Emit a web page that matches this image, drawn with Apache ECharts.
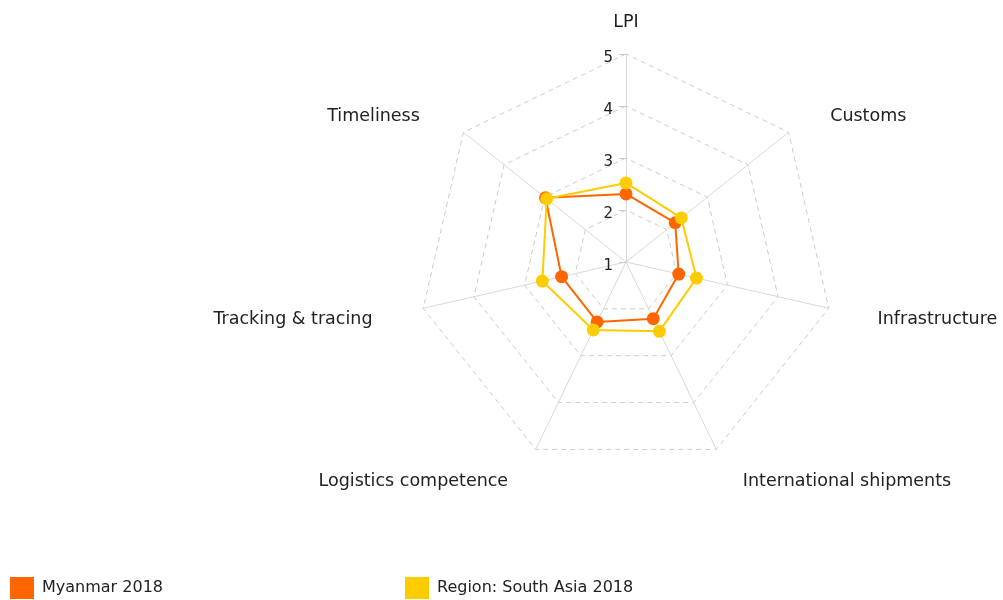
<!DOCTYPE html>
<html>
<head>
<meta charset="utf-8">
<script src="https://cdn.jsdelivr.net/npm/echarts@6/dist/echarts.min.js"></script>
<style>
  html, body { margin: 0; padding: 0; background: #fff; }
  #chart { width: 1003px; height: 600px; }
</style>
</head>
<body>
<div id="chart"></div>
<script>
// categories in clockwise order, starting at the top
var categories = ['LPI', 'Customs', 'Infrastructure', 'International shipments', 'Logistics competence', 'Tracking & tracing', 'Timeliness'];
var myanmar = [2.31, 2.21, 2.04, 2.21, 2.28, 2.27, 2.98];
var southAsia = [2.52, 2.36, 2.39, 2.48, 2.45, 2.65, 2.95];
var seriesNames = ['Myanmar 2018', 'Region: South Asia 2018'];
var scaleMin = 1;
var scaleMax = 5;

// echarts lays the indicators out counter-clockwise, so flip everything after the first
function clockwise(arr) {
	return [arr[0]].concat(arr.slice(1).reverse());
}

// gap + padding of each axis name
var nameGaps = {
	'LPI': 23,
	'Customs': 25,
	'Infrastructure': 50,
	'International shipments': 36,
	'Logistics competence': 36,
	'Tracking & tracing': 52,
	'Timeliness': 25
};
var namePads = {
	'Customs': [0, 0, 0, 22],
	'Timeliness': [0, 24, 0, 0],
	'International shipments': [0, 0, 0, 11],
	'Logistics competence': [0, 12, 0, 0]
};

var indicators = clockwise(categories).map(function (c, i) {
	var ind = { name: c, min: scaleMin, max: scaleMax, nameGap: nameGaps[c] };
	if (namePads[c]) {
		ind.nameTextStyle = { padding: namePads[c] };
	}
	if (i == 0) {
		// only the LPI axis carries the scale labels
		ind.axisLabel = {
			show: true,
			margin: 13,
			formatter: '{v|{value}}',
			rich: { v: { fontSize: 15, color: '#222', fontFamily: 'DejaVu Sans', padding: [8, 0, 0, 0] } }
		};
		ind.axisTick = { show: true, length: 7, lineStyle: { color: '#ccc' } };
	}
	return ind;
});

var my_chart = echarts.init(document.getElementById('chart'));
my_chart.setOption({
	animation: false,
	color: ['#ff6600', '#ffcc00'],
	textStyle: { fontFamily: 'DejaVu Sans' },
	legend: {
		data: seriesNames,
		left: 10,
		bottom: 1,
		padding: 0,
		icon: 'rect',
		itemWidth: 24,
		itemHeight: 22,
		itemGap: 242,
		textStyle: { fontSize: 16, color: '#222', fontFamily: 'DejaVu Sans', padding: [3, 0, 0, 3] }
	},
	radar: {
		center: [626, 262],
		radius: 208,
		shape: 'polygon',
		splitNumber: 4,
		indicator: indicators,
		axisName: { color: '#222', fontSize: 17.5, fontFamily: 'DejaVu Sans' },
		axisLine: { lineStyle: { color: '#d8d8d8', width: 1 } },
		splitLine: { lineStyle: { color: '#cccccc', type: [5, 4], width: 1 } },
		splitArea: { show: false },
		axisLabel: { show: false },
		axisTick: { show: false }
	},
	series: [{
		type: 'radar',
		symbol: 'circle',
		symbolSize: 13,
		lineStyle: { width: 2 },
		data: [
			{ name: seriesNames[0], value: clockwise(myanmar) },
			{ name: seriesNames[1], value: clockwise(southAsia) }
		]
	}]
});
</script>
</body>
</html>
